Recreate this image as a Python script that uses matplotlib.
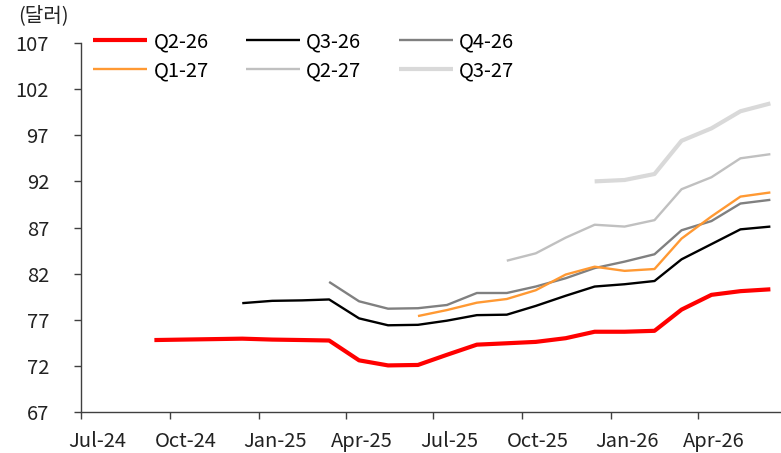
import matplotlib
matplotlib.use("Agg")
import matplotlib.pyplot as plt
import matplotlib.dates as mdates
import matplotlib.transforms as mtransforms
import pandas as pd

plt.rcParams["font.family"] = ["Noto Sans CJK KR", "DejaVu Sans"]

# monthly points (mid-month), Sep-24 .. Jun-26
months = pd.date_range("2024-09-01", "2026-06-01", freq="MS") + pd.Timedelta(days=14)

q2_26 = [74.8, 74.85, 74.9, 74.95, 74.85, 74.8, 74.75, 72.6, 72.05, 72.1, 73.2,
         74.3, 74.45, 74.6, 75.0, 75.7, 75.7, 75.8, 78.1, 79.7, 80.1, 80.3]
q3_26 = [78.8, 79.05, 79.1, 79.2, 77.15, 76.4, 76.45, 76.9, 77.5, 77.55, 78.5,
         79.6, 80.6, 80.85, 81.2, 83.55, 85.2, 86.8, 87.1]
q4_26 = [81.1, 79.0, 78.2, 78.25, 78.6, 79.9, 79.9, 80.6, 81.5, 82.6, 83.3,
         84.1, 86.7, 87.7, 89.6, 90.0]
q1_27 = [77.4, 78.05, 78.85, 79.25, 80.2, 81.9, 82.75, 82.3, 82.5, 85.8, 88.2,
         90.35, 90.8]
q2_27 = [83.4, 84.2, 85.9, 87.3, 87.1, 87.8, 91.15, 92.45, 94.5, 94.95]
q3_27 = [92.0, 92.15, 92.8, 96.4, 97.75, 99.6, 100.45]

series = [
    ("Q2-26", q2_26, "#ff0000", 3.0),
    ("Q3-26", q3_26, "#000000", 1.7),
    ("Q4-26", q4_26, "#808080", 1.7),
    ("Q1-27", q1_27, "#ff9933", 1.7),
    ("Q2-27", q2_27, "#c0c0c0", 1.7),
    ("Q3-27", q3_27, "#d9d9d9", 3.0),
]

y_ticks = [67, 72, 77, 82, 87, 92, 97, 102, 107]
x_ticks = pd.date_range("2024-07-01", "2026-04-01", freq="3MS")

fig = plt.figure(figsize=(7.81, 4.53), dpi=100)
ax = fig.add_axes([81 / 781, 1 - 412 / 453, 700 / 781, 369 / 453])

for name, values, color, lw in series:
    ax.plot(months[-len(values):], values, color=color, lw=lw, label=name,
            solid_capstyle="butt")

ax.set_ylim(67, 107)
ax.set_yticks(y_ticks)
ax.set_xlim(pd.Timestamp("2024-07-01"), pd.Timestamp("2026-06-26"))
ax.set_xticks(x_ticks)
ax.xaxis.set_major_formatter(mdates.DateFormatter("%b-%y"))

for side in ("top", "right"):
    ax.spines[side].set_visible(False)
for side in ("left", "bottom"):
    ax.spines[side].set_color("#404040")
    ax.spines[side].set_linewidth(1.0)

ax.tick_params(axis="y", length=5, width=1, color="#404040", labelsize=14.5,
               pad=18, labelcolor="#222222")
ax.tick_params(axis="x", length=5, width=1, color="#404040", labelsize=14.5,
               pad=9, labelcolor="#222222")

offset = mtransforms.ScaledTranslation(0.16, 0, fig.dpi_scale_trans)
for lbl in ax.get_xticklabels():
    lbl.set_transform(lbl.get_transform() + offset)

fig.text(18 / 781, 1 - 16 / 453, "(달러)", fontsize=14.5, color="#222222",
         va="center", ha="left")

# legend fills row by row in the reference
handles, labels = ax.get_legend_handles_labels()
order = [0, 3, 1, 4, 2, 5]
ax.legend([handles[i] for i in order], [labels[i] for i in order],
          loc="upper left", bbox_to_anchor=(93 / 781, 1 - 31 / 453),
          bbox_transform=fig.transFigure, ncol=3, frameon=False,
          fontsize=14.5, handlelength=2.7, handletextpad=0.3,
          columnspacing=1.85, labelspacing=0.4, borderpad=0,
          borderaxespad=0)

fig.savefig("out.png", dpi=100)
